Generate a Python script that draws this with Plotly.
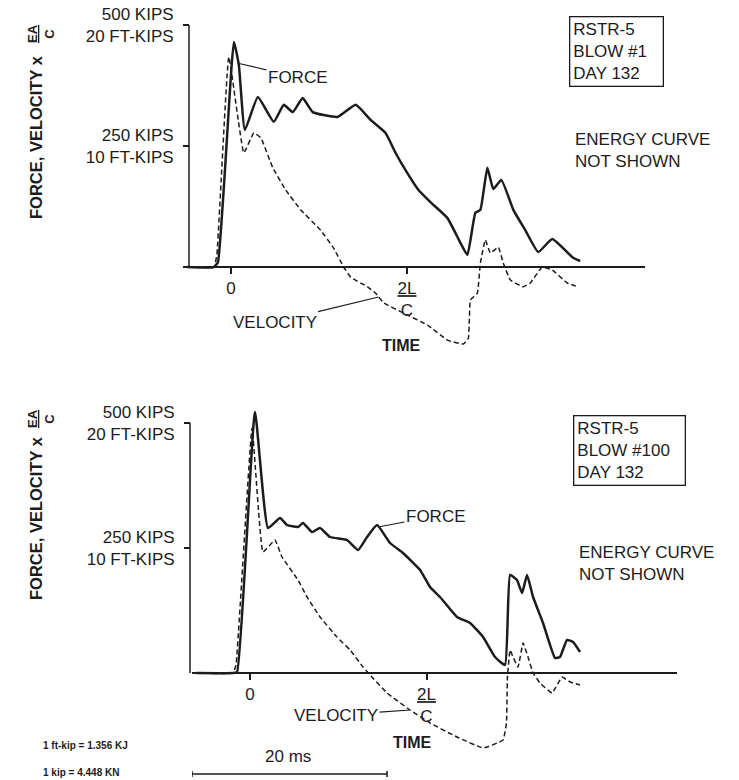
import plotly.graph_objects as go

W, H = 739, 780
INK = "#1c1c1c"
FONT = "Liberation Sans, Arial, sans-serif"

# ---------------- data (time in ms, force / velocity*EA/C in kips) ----------------
TWO_L_OVER_C = 18.1          # ms
Y_TICKS = [250, 500]
Y_TICK_TEXT = ["250 KIPS<br>10 FT-KIPS", "500 KIPS<br>20 FT-KIPS"]
X_TICKS = [0, TWO_L_OVER_C]
X_TICK_TEXT = ["0", "<u>2L</u><br>C"]
SCALE_BAR_MS = 20

# Blow #1
t_force_1 = [-4.5, -1.74, -1.33, 0.31, 0.82, 1.44, 2.77, 4.41, 5.44, 6.36, 7.38, 8.41,
             10.97, 12.82, 14.36, 15.9, 16.92, 17.95, 19.28, 20.51, 22.26, 23.59, 24.31,
             25.13, 25.64, 26.36, 26.97, 27.79, 29.03, 30.26, 31.59, 33.03, 35.18, 35.9]
force_1 = [0, 0, 10, 465, 417, 283, 351, 300, 335, 320, 349, 320,
           310, 335, 304, 277, 236, 200, 159, 134, 101, 50, 25,
           112, 118, 205, 161, 180, 118, 76, 31, 58, 19, 12]

t_vel_1 = [-4.5, -1.74, -1.44, -0.21, 1.33, 2.36, 3.08, 4.31, 5.64, 7.18, 9.23, 10.56,
           11.59, 12.31, 14.05, 14.87, 15.69, 17.74, 20.21, 22.26, 23.9, 24.41, 24.62,
           25.33, 25.64, 26.15, 26.67, 27.49, 28.0, 28.72, 30.05, 30.77, 32.0, 33.03,
           34.56, 35.69]
vel_1 = [0, 0, 25, 434, 236, 277, 267, 205, 159, 118, 76, 39,
         0, -21, -41, -54, -74, -95, -120, -151, -159, -147, -68,
         -54, 8, 56, 29, 41, 8, -27, -41, -33, 0, -6,
         -33, -41]

# Blow #100
t_force_100 = [-5.5, -1.74, -1.33, 0.51, 1.85, 3.08, 3.79, 4.92, 5.44, 6.36, 7.18, 8.21,
               9.95, 11.08, 12.0, 13.03, 14.36, 15.69, 17.44, 18.46, 19.49, 21.23, 22.56,
               23.9, 25.13, 26.15, 26.67, 27.38, 27.9, 28.41, 29.03, 30.05, 31.28, 31.79,
               32.51, 33.13, 33.85]
force_100 = [0, 0, 2, 522, 290, 310, 296, 292, 300, 282, 290, 272,
             266, 246, 272, 296, 260, 240, 206, 172, 152, 112, 100,
             72, 32, 16, 196, 186, 160, 196, 152, 100, 30, 32,
             66, 62, 42]

t_vel_100 = [-5.5, -1.74, -1.44, 0.21, 1.33, 2.56, 3.28, 4.92, 5.85, 7.18, 8.92, 10.26,
             11.59, 12.31, 14.05, 16.41, 18.46, 21.23, 23.9, 25.95, 26.3, 26.4, 26.67,
             26.97, 27.49, 28.0, 28.51, 29.03, 29.74, 30.97, 32.0, 32.82, 33.85]
vel_100 = [0, 0, 16, 490, 242, 266, 232, 186, 152, 112, 72, 46,
           12, -4, -40, -74, -100, -128, -150, -134, -100, -8, 46,
           32, 12, 60, 32, 0, -20, -40, -8, -18, -24]

# ---------------- layout helpers (pixel -> paper) ----------------
def px(x):
    return x / W

def py(y):
    return 1 - y / H

XR1 = [-4.92, 42.56]
YR1 = [-192.1, 510.3]
XR2 = [-5.95, 43.79]
YR2 = [-174.0, 546.0]

fig = go.Figure()
solid = dict(color=INK, width=2.5, shape="spline", smoothing=0.4)
dashed = dict(color=INK, width=1.5, dash="5px,3px", shape="spline", smoothing=0.3)

fig.add_trace(go.Scatter(x=t_vel_1, y=vel_1, mode="lines", line=dashed, xaxis="x", yaxis="y"))
fig.add_trace(go.Scatter(x=t_force_1, y=force_1, mode="lines", line=solid, xaxis="x", yaxis="y"))
fig.add_trace(go.Scatter(x=t_vel_100, y=vel_100, mode="lines", line=dashed, xaxis="x2", yaxis="y2"))
fig.add_trace(go.Scatter(x=t_force_100, y=force_100, mode="lines", line=solid, xaxis="x2", yaxis="y2"))

tickfont = dict(family=FONT, size=17, color=INK)

def xaxis(domain, rng, pos):
    return dict(domain=domain, range=rng, anchor="free", position=pos, automargin=False,
                showline=True, linecolor=INK, linewidth=1.5,
                ticks="outside", ticklen=6, tickwidth=1.5, tickcolor=INK,
                tickvals=X_TICKS, ticktext=X_TICK_TEXT, tickfont=tickfont,
                showgrid=False, zeroline=False, fixedrange=True)

def yaxis(domain, rng, pos):
    return dict(domain=domain, range=rng, anchor="free", position=pos, automargin=False,
                showline=False, ticks="outside", ticklen=6, tickwidth=1.5, tickcolor=INK,
                tickvals=Y_TICKS, ticktext=Y_TICK_TEXT, tickfont=tickfont,
                ticklabelstandoff=6,
                showgrid=False, zeroline=False, fixedrange=True)

fig.update_layout(
    width=W, height=H, margin=dict(l=0, r=0, t=0, b=0, pad=0, autoexpand=False),
    paper_bgcolor="white", plot_bgcolor="rgba(0,0,0,0)", showlegend=False,
    font=dict(family=FONT, color=INK),
    xaxis=xaxis([px(183), px(645)], XR1, py(267)),
    yaxis=yaxis([py(360), py(20)], YR1, px(189)),
    xaxis2=xaxis([px(192), px(677)], XR2, py(673)),
    yaxis2=yaxis([py(760), py(400)], YR2, px(190)),
)

shapes = [
    # vertical axis lines (0 .. 500 kips)
    dict(type="line", xref="paper", yref="y", x0=px(189), x1=px(189), y0=0, y1=Y_TICKS[-1],
         line=dict(color=INK, width=1.5)),
    dict(type="line", xref="paper", yref="y2", x0=px(190), x1=px(190), y0=0, y1=Y_TICKS[-1],
         line=dict(color=INK, width=1.5)),
    # 20 ms scale bar
    dict(type="line", xref="x2", yref="paper", x0=XR2[0], x1=XR2[0] + SCALE_BAR_MS,
         y0=py(774), y1=py(774), line=dict(color=INK, width=1.5)),
    dict(type="line", xref="x2", yref="paper", x0=XR2[0], x1=XR2[0],
         y0=py(771), y1=py(777), line=dict(color=INK, width=1.5)),
    dict(type="line", xref="x2", yref="paper", x0=XR2[0] + SCALE_BAR_MS, x1=XR2[0] + SCALE_BAR_MS,
         y0=py(771), y1=py(777), line=dict(color=INK, width=1.5)),
]
fig.update_layout(shapes=shapes)

f17 = dict(family=FONT, size=17, color=INK)
annotations = []

def text(x, y, s, font=f17, xanchor="left", yanchor="middle", align="left", **kw):
    annotations.append(dict(xref="paper", yref="paper", x=px(x), y=py(y), text=s,
                            showarrow=False, xanchor=xanchor, yanchor=yanchor,
                            align=align, font=font, **kw))

# y-axis titles
ytitle_font = dict(family=FONT, size=16.5, color=INK, weight="bold")
frac_font = dict(family=FONT, size=13, color=INK, weight="bold")
for yc, yf in [(137, 34), (518, 419)]:
    text(36, yc, "FORCE, VELOCITY x", font=ytitle_font, xanchor="center", textangle=-90)
    text(41, yf, "<u>EA</u><br>C", font=frac_font, xanchor="center", align="center", textangle=-90)

# info boxes
box_font = dict(family=FONT, size=17, color=INK)
annotations.append(dict(xref="paper", yref="paper", x=px(569), y=py(16), xanchor="left", yanchor="top",
                        text="RSTR-5<br>BLOW #1<br>DAY 132", align="left", showarrow=False,
                        font=box_font, bordercolor=INK, borderwidth=1.3, borderpad=3,
                        width=86, height=62))
annotations.append(dict(xref="paper", yref="paper", x=px(573), y=py(415), xanchor="left", yanchor="top",
                        text="RSTR-5<br>BLOW #100<br>DAY 132", align="left", showarrow=False,
                        font=box_font, bordercolor=INK, borderwidth=1.3, borderpad=3,
                        width=104, height=62))

text(573, 150, "ENERGY CURVE<br>NOT SHOWN")
text(577, 563, "ENERGY CURVE<br>NOT SHOWN")

# TIME labels
bold17 = dict(family=FONT, size=16, color=INK, weight="bold")
text(402, 345, "TIME", font=bold17, xanchor="center")
text(413, 742, "TIME", font=bold17, xanchor="center")

# curve labels with leader lines
def leader(xref, yref, x, y, s, ax, ay):
    annotations.append(dict(xref=xref, yref=yref, x=x, y=y, text=s, showarrow=True,
                            arrowhead=0, arrowwidth=1.2, arrowcolor=INK, standoff=0,
                            ax=ax, ay=ay, font=f17))

leader("x", "y", 0.72, 421, "FORCE", 60, 14)
leader("x", "y", 15.18, -62, "VELOCITY", -104, 25)
leader("x2", "y2", 13.13, 292, "FORCE", 58, -11)
leader("x2", "y2", 16.41, -74, "VELOCITY", -74, 5)

# scale bar label and unit conversions
text(288, 756, "20 ms", font=dict(family=FONT, size=17, color=INK), xanchor="center")
small = dict(family=FONT, size=10, color=INK, weight="bold")
text(41, 745, "1 ft-kip = 1.356 KJ", font=small)
text(41, 772, "1 kip = 4.448 KN", font=small)

fig.update_layout(annotations=annotations)
fig.write_html("out.html", config={"displayModeBar": False},
               post_script="document.body.style.margin='0px';document.body.style.overflow='hidden';")
